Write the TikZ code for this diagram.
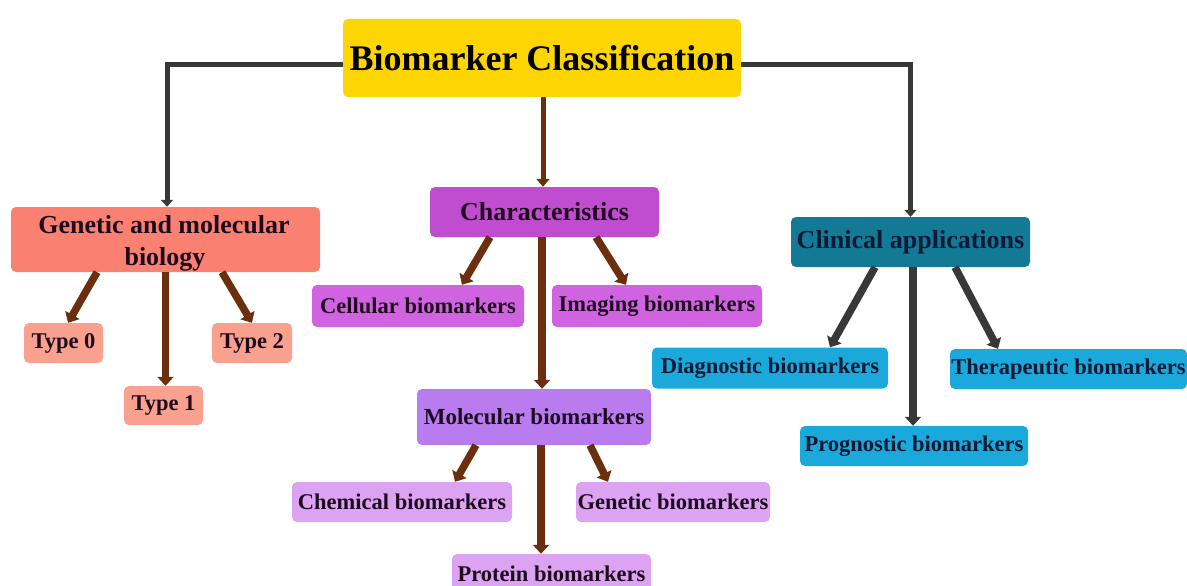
\documentclass[tikz,border=0pt]{standalone}
\usepackage{fontspec}
\setmainfont{Liberation Serif}
\usetikzlibrary{arrows.meta}
\definecolor{rootc}{HTML}{FDD500}
\definecolor{genc}{HTML}{FA8072}
\definecolor{typec}{HTML}{F9A08E}
\definecolor{charc}{HTML}{C04CCF}
\definecolor{cellc}{HTML}{D063E0}
\definecolor{molc}{HTML}{B97CEF}
\definecolor{subc}{HTML}{DDA3F3}
\definecolor{clinc}{HTML}{137A96}
\definecolor{bluec}{HTML}{1BA9DB}
\definecolor{brownc}{HTML}{6B2F0E}
\definecolor{grayc}{HTML}{383838}
\definecolor{txtc}{HTML}{1E0A1E}
\definecolor{navyc}{HTML}{0A1A36}
\tikzset{
  box/.style={rounded corners=5pt, inner sep=0pt, align=center, font=\bfseries, text=txtc},
  bigfont/.style={font=\fontsize{26}{30}\selectfont\bfseries},
  smallfont/.style={font=\fontsize{22.5}{26}\selectfont\bfseries},
  brownthin/.style={draw=brownc, line width=5pt, -{Triangle[width=13pt,length=8pt]}},
  brownthick/.style={draw=brownc, line width=7.5pt, -{Triangle[width=16pt,length=9pt]}},
  graythin/.style={draw=grayc, line width=5pt, -{Triangle[width=12pt,length=7pt]}},
  graythick/.style={draw=grayc, line width=7.5pt, -{Triangle[width=16pt,length=9pt]}},
}
\begin{document}
\begin{tikzpicture}[x=1pt,y=-1pt]
\useasboundingbox (0,0) rectangle (1187,586);
\begin{scope}
\clip (0,0) rectangle (1187,586);
% nodes
\node[box, fill=rootc, text=black, minimum width=398pt, minimum height=78pt, font=\fontsize{36}{40}\selectfont\bfseries] (root) at (542,58) {Biomarker Classification};

\node[box, bigfont, fill=genc, minimum width=309pt, minimum height=65pt] (gen) at (165.5,239.5) {};
\node[bigfont, text=txtc, anchor=base] (genl1) at (164,233) {Genetic and molecular};
\node[bigfont, text=txtc, anchor=base] (genl2) at (165,265) {biology};
\node[box, smallfont, fill=typec, minimum width=79pt, minimum height=40pt] (t0) at (63.5,343) {Type 0};
\node[box, smallfont, fill=typec, minimum width=79pt, minimum height=39pt] (t1) at (163.5,405.5) {Type 1};
\node[box, smallfont, fill=typec, minimum width=80pt, minimum height=40pt] (t2) at (252,343) {Type 2};

\node[box, bigfont, fill=charc, minimum width=229pt, minimum height=50pt] (char) at (544.5,212) {Characteristics};
\node[box, smallfont, fill=cellc, minimum width=212pt, minimum height=42pt] (cell) at (418,306) {Cellular biomarkers};
\node[box, smallfont, fill=cellc, minimum width=210pt, minimum height=42pt] (img) at (657,306) {Imaging biomarkers};
\node[box, font=\fontsize{23}{26}\selectfont\bfseries, fill=molc, minimum width=234pt, minimum height=56pt] (mol) at (534,417) {Molecular biomarkers};
\node[box, smallfont, fill=subc, minimum width=220pt, minimum height=40pt] (chem) at (402,502) {Chemical biomarkers};
\node[box, smallfont, fill=subc, minimum width=194pt, minimum height=40pt] (genb) at (673,502) {Genetic biomarkers};
\node[box, smallfont, fill=subc, minimum width=199pt, minimum height=40pt] (prot) at (551.5,574) {Protein biomarkers};

\node[box, bigfont, fill=clinc, text=navyc, minimum width=239pt, minimum height=50pt] (clin) at (910.5,242) {Clinical applications};
\node[box, smallfont, fill=bluec, text=navyc, minimum width=236pt, minimum height=41pt] (diag) at (770,368) {Diagnostic biomarkers};
\node[box, smallfont, fill=bluec, text=navyc, minimum width=237pt, minimum height=40pt] (ther) at (1068.5,369) {Therapeutic biomarkers};
\node[box, smallfont, fill=bluec, text=navyc, minimum width=228pt, minimum height=40pt] (prog) at (914,446) {Prognostic biomarkers};

% connectors from root
\draw[graythin] ([yshift=-7pt]root.west) -| ([xshift=1.5pt]gen.north);
\draw[graythin] ([yshift=-7pt]root.east) -| (clin.north);
\draw[brownthin] ([xshift=1pt]root.south) -- ([xshift=-1.5pt]char.north);

% genetic branch
\draw[brownthick] ([xshift=-68.5pt]gen.south) -- ([xshift=4.5pt]t0.north);
\draw[brownthick] ([xshift=0pt]gen.south) -- ([xshift=2pt]t1.north);
\draw[brownthick] ([xshift=56.5pt]gen.south) -- ([xshift=0pt]t2.north);

% characteristics branch
\draw[brownthick] ([xshift=-54.5pt]char.south) -- ([xshift=44pt]cell.north);
\draw[brownthick] ([xshift=-2.5pt]char.south) -- ([xshift=8pt]mol.north);
\draw[brownthick] ([xshift=51.5pt]char.south) -- ([xshift=-31pt]img.north);

% molecular branch
\draw[brownthick] ([xshift=-58pt]mol.south) -- ([xshift=53pt]chem.north);
\draw[brownthick] ([xshift=7pt]mol.south) -- ([xshift=-10.5pt]prot.north);
\draw[brownthick] ([xshift=56pt]mol.south) -- ([xshift=-65pt]genb.north);

% clinical branch
\draw[graythick] ([xshift=-35.5pt]clin.south) -- ([xshift=60pt]diag.north);
\draw[graythick] ([xshift=2.5pt]clin.south) -- ([xshift=-1pt]prog.north);
\draw[graythick] ([xshift=44.5pt]clin.south) -- ([xshift=-70.5pt]ther.north);
\end{scope}
\end{tikzpicture}
\end{document}
